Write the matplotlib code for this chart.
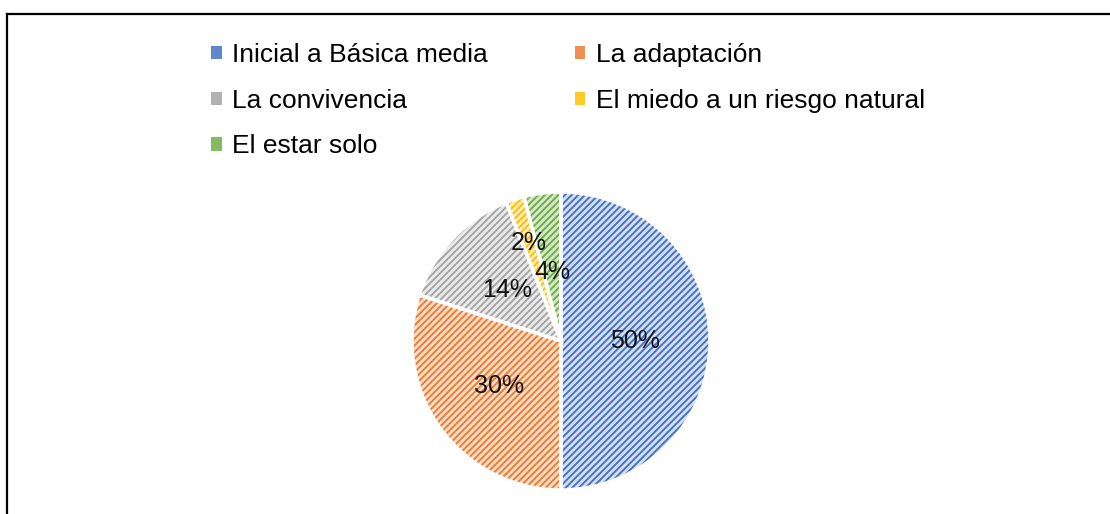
import matplotlib
matplotlib.use("Agg")
import matplotlib.pyplot as plt
from matplotlib.patches import Patch
from matplotlib.lines import Line2D
import numpy as np

categories = ["Inicial a Básica media", "La adaptación", "La convivencia",
              "El miedo a un riesgo natural", "El estar solo"]
values = [50, 30, 14, 2, 4]
labels = ["50%", "30%", "14%", "2%", "4%"]

colors = ["#4472C4", "#ED7D31", "#A5A5A5", "#FFC000", "#70AD47"]
fills = ["#D6E0F3", "#FBDDC9", "#EBEBEB", "#FFEDC0", "#D7E9CB"]
label_dist = [0.50, 0.51, 0.50, 0.69, 0.47]

plt.rcParams['font.family'] = ['Liberation Sans', 'DejaVu Sans']
plt.rcParams['hatch.linewidth'] = 1.4

W, H = 1110, 514
fig = plt.figure(figsize=(W / 100, H / 100), dpi=100)

cx, cy, r = 561, 514 - 341, 149
half = 153
ax = fig.add_axes([(cx - half) / W, (cy - half) / H, 2 * half / W, 2 * half / H])
lim = half / r

# hatched fill pass
wedges, _ = ax.pie(values, startangle=90, counterclock=False, colors=fills,
                   wedgeprops=dict(linewidth=0, hatch='/////'))
for w, c in zip(wedges, colors):
    w.set_edgecolor(c)
    w.set_linewidth(0)
# white border pass
wedges2, _ = ax.pie(values, startangle=90, counterclock=False,
                    wedgeprops=dict(facecolor='none', edgecolor='white', linewidth=2.5))

# labels
for w, lab, d in zip(wedges, labels, label_dist):
    ang = np.deg2rad((w.theta1 + w.theta2) / 2)
    ax.text(d * np.cos(ang), d * np.sin(ang), lab, ha='center', va='center',
            fontsize=18, color='#111111')

ax.set_xlim(-lim, lim)
ax.set_ylim(-lim, lim)
ax.set_aspect('equal')
ax.axis('off')

# legend (row-major order to match reference)
handles = [Patch(facecolor=c, edgecolor='none', alpha=0.85) for c in colors]
order = [0, 2, 4, 1, 3]
leg = fig.legend([handles[i] for i in order], [categories[i] for i in order],
                 ncol=2, loc='upper left', bbox_to_anchor=(211 / W, 1 - 43 / H),
                 frameon=False, fontsize=19, handlelength=0.4, handleheight=0.4,
                 handletextpad=0.4, columnspacing=3.3, labelspacing=0.82,
                 borderaxespad=0, borderpad=0)

# chart border (top and left visible)
fig.add_artist(Line2D([7 / W, 1], [1 - 14 / H, 1 - 14 / H], color='black', lw=1.6,
                      transform=fig.transFigure))
fig.add_artist(Line2D([7 / W, 7 / W], [0, 1 - 14 / H], color='black', lw=1.6,
                      transform=fig.transFigure))

fig.savefig("out.png", dpi=100)
